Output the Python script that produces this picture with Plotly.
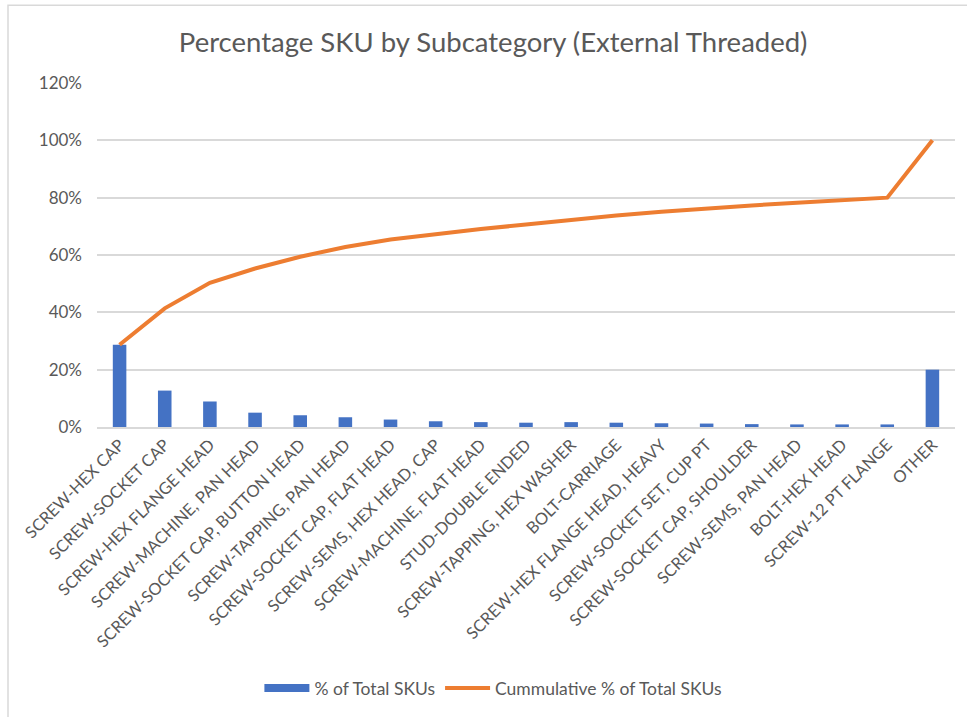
import plotly.graph_objects as go

# Subcategories in Pareto order
subcategories = [
    "SCREW-HEX CAP", "SCREW-SOCKET CAP", "SCREW-HEX FLANGE HEAD",
    "SCREW-MACHINE, PAN HEAD", "SCREW-SOCKET CAP, BUTTON HEAD",
    "SCREW-TAPPING, PAN HEAD", "SCREW-SOCKET CAP, FLAT HEAD",
    "SCREW-SEMS, HEX HEAD, CAP", "SCREW-MACHINE, FLAT HEAD",
    "STUD-DOUBLE ENDED", "SCREW-TAPPING, HEX WASHER", "BOLT-CARRIAGE",
    "SCREW-HEX FLANGE HEAD, HEAVY", "SCREW-SOCKET SET, CUP PT",
    "SCREW-SOCKET CAP, SHOULDER", "SCREW-SEMS, PAN HEAD", "BOLT-HEX HEAD",
    "SCREW-12 PT FLANGE", "OTHER",
]

# Share of total SKUs per subcategory (%)
pct_total = [28.7, 12.7, 8.9, 5.0, 4.1, 3.4, 2.6, 2.0, 1.7, 1.5,
             1.7, 1.5, 1.3, 1.2, 1.0, 0.9, 0.9, 0.9, 20.0]

# Running cumulative share (%)
cum_pct = [28.7, 41.4, 50.3, 55.3, 59.4, 62.8, 65.4, 67.4, 69.1, 70.6,
           72.3, 73.8, 75.1, 76.3, 77.3, 78.2, 79.1, 80.0, 100.0]

y_ticks = [0, 20, 40, 60, 80, 100, 120]
y_tick_text = [f"{v}%" for v in y_ticks]

FONT = "Lato, 'Open Sans', sans-serif"
GRAY = "#595959"
GRID = "#d9d9d9"
BLUE = "#4472C4"
ORANGE = "#ED7D31"

fig = go.Figure()
fig.add_trace(go.Bar(
    x=subcategories, y=pct_total, name="% of Total SKUs",
    marker=dict(color=BLUE, line=dict(width=0)),
    legendgroup="bars", showlegend=False,
))
# legend key for the bars, drawn as a wide block like the Excel swatch
fig.add_trace(go.Scatter(
    x=[None], y=[None], name="% of Total SKUs", mode="lines",
    line=dict(color=BLUE, width=8), legendgroup="bars",
))
fig.add_trace(go.Scatter(
    x=subcategories, y=cum_pct, name="Cummulative % of Total SKUs",
    mode="lines", line=dict(color=ORANGE, width=4),
))

fig.update_layout(
    width=967, height=717,
    margin=dict(l=97, r=12, t=83, b=289),
    paper_bgcolor="white", plot_bgcolor="white",
    font=dict(family=FONT, color=GRAY, size=16),
    bargap=0.7,
    title=dict(
        text="Percentage SKU by Subcategory (External Threaded)",
        x=0.51, xref="container", xanchor="center",
        y=1 - 42 / 717, yref="container", yanchor="middle",
        font=dict(family=FONT, size=27.5, color=GRAY),
    ),
    xaxis=dict(
        tickangle=-45, showgrid=False, showline=True, linecolor=GRID,
        linewidth=1.5, ticks="", tickfont=dict(size=16.5, color=GRAY),
    ),
    yaxis=dict(
        range=[0, 120], tickvals=y_ticks, ticktext=y_tick_text,
        showgrid=True, gridcolor=GRID, gridwidth=1.5,
        zeroline=False, showline=False, ticks="",
        ticklabelstandoff=14,
        tickfont=dict(size=17, color=GRAY),
    ),
    legend=dict(
        orientation="h", x=0.462, xanchor="center",
        y=(428 - 688) / 345, yanchor="middle",
        font=dict(size=17.5, color=GRAY), itemwidth=45,
        tracegroupgap=0,
    ),
    showlegend=True,
    shapes=[dict(
        type="rect", xref="paper", yref="paper",
        x0=(8 - 97) / 858, x1=(980 - 97) / 858,
        y0=(428 - 730) / 345, y1=(428 - 5) / 345,
        line=dict(color=GRID, width=1.5), fillcolor="rgba(0,0,0,0)",
        layer="below",
    )],
)

fig.write_html("out.html")
